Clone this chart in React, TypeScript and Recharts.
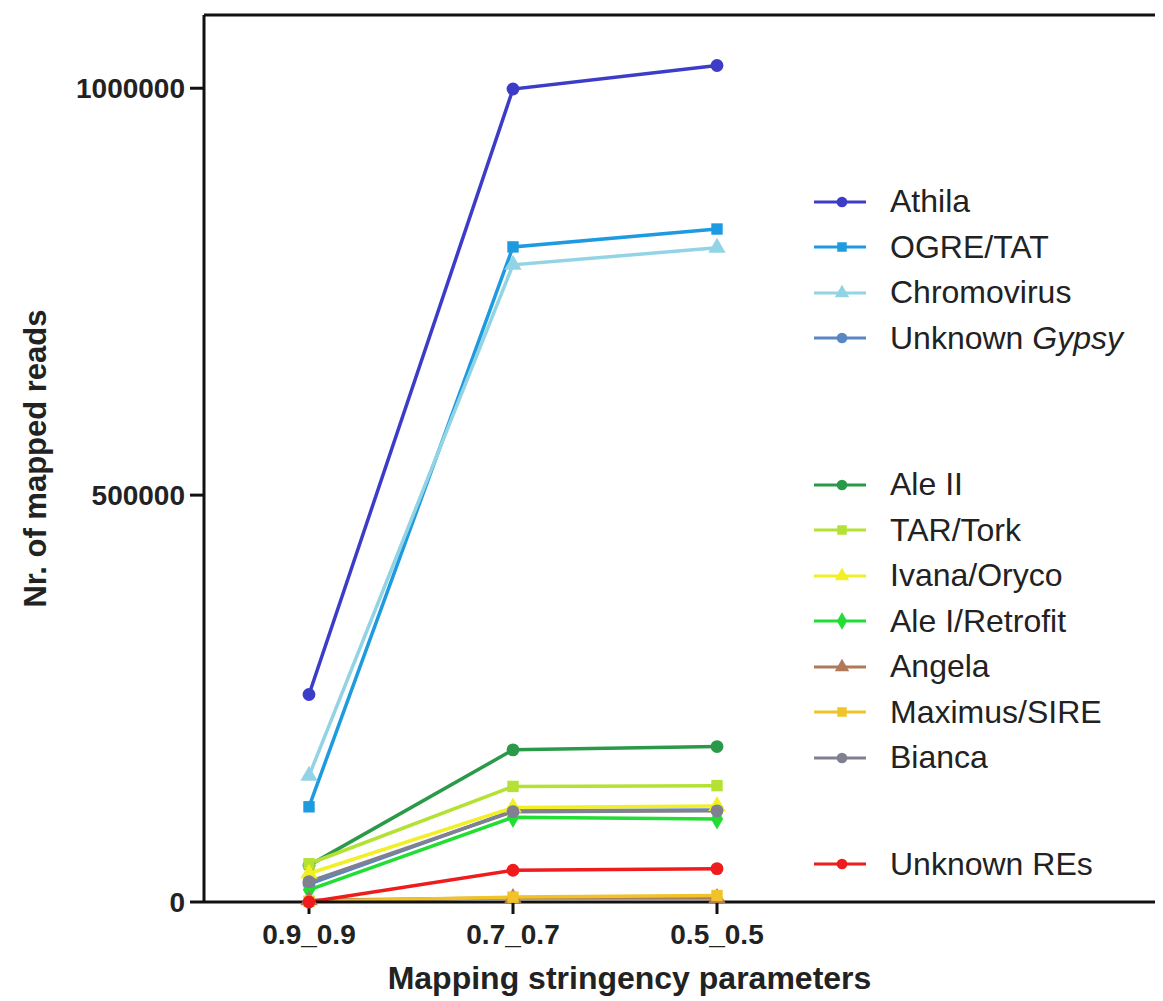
import React from "react";
import { LineChart, Line, XAxis, YAxis, Legend, Symbols, ReferenceLine } from "recharts";

// mapping stringency settings (x axis)
const stringency = ["0.9_0.9", "0.7_0.7", "0.5_0.5"];
const yTicks = [0, 500000, 1000000];
const yMax = 1090000;

// mapped reads per lineage
const athila = [255000, 999000, 1028000];
const ogreTat = [117000, 805000, 827000];
const chromovirus = [155000, 783000, 804000];
const unknownGypsy = [22000, 112000, 113000];
const aleII = [45000, 187000, 191000];
const tarTork = [47000, 142000, 143000];
const ivanaOryco = [35000, 116000, 118000];
const aleIRetrofit = [15000, 104000, 102000];
const angela = [2000, 5000, 5000];
const maximusSire = [1000, 6000, 8000];
const bianca = [25000, 111000, 112000];
const unknownREs = [0, 39000, 41000];

type S = { key: string; name: string; values: number[]; color: string; shape: any; gapBefore?: number };

const series: S[] = [
    { key: "athila", name: "Athila", values: athila, color: "#3c3cc8", shape: "circle" },
    { key: "ogre", name: "OGRE/TAT", values: ogreTat, color: "#1e9be0", shape: "square" },
    { key: "chromo", name: "Chromovirus", values: chromovirus, color: "#92d4e6", shape: "triangle" },
    { key: "gypsy", name: "Unknown Gypsy", values: unknownGypsy, color: "#5b86c4", shape: "circle" },
    { key: "aleII", name: "Ale II", values: aleII, color: "#2a9a4a", shape: "circle", gapBefore: 101 },
    { key: "tar", name: "TAR/Tork", values: tarTork, color: "#b4e234", shape: "square" },
    { key: "ivana", name: "Ivana/Oryco", values: ivanaOryco, color: "#f2f024", shape: "triangle" },
    { key: "aleI", name: "Ale I/Retrofit", values: aleIRetrofit, color: "#22dd33", shape: "diamond" },
    { key: "angela", name: "Angela", values: angela, color: "#b07a5a", shape: "triangle" },
    { key: "maximus", name: "Maximus/SIRE", values: maximusSire, color: "#f0c428", shape: "square" },
    { key: "bianca", name: "Bianca", values: bianca, color: "#808090", shape: "circle" },
    { key: "res", name: "Unknown REs", values: unknownREs, color: "#ee1c1c", shape: "circle", gapBefore: 61 },
];

const data = stringency.map((s, i) => {
    const row: any = { s };
    series.forEach((se) => { row[se.key] = se.values[i]; });
    return row;
});

const FONT = "'Liberation Sans', Arial, sans-serif";

const renderLegend = () => (
    <div style={{ fontFamily: FONT, fontSize: 32, color: "#222" }}>
        {series.map((se) => (
            <div key={se.key} style={{ display: "flex", alignItems: "center", height: 45.5, marginTop: se.gapBefore || 0 }}>
                <svg width={56} height={20} style={{ marginRight: 22 }}>
                    <line x1={2} y1={10} x2={54} y2={10} stroke={se.color} strokeWidth={3} />
                    <Symbols cx={30} cy={10} type={se.shape} size={90} fill={se.color} />
                </svg>
                <span>
                    {se.name === "Unknown Gypsy" ? <>Unknown <i>Gypsy</i></> : se.name}
                </span>
            </div>
        ))}
    </div>
);

export default function App() {
    return (
        <LineChart width={1155} height={993} data={data} margin={{ top: 7, right: 0, bottom: 0, left: 0 }}>
            <XAxis
                dataKey="s"
                padding={{ left: 105, right: 446 }}
                axisLine={{ stroke: "#111", strokeWidth: 3 }}
                tickLine={{ stroke: "#111", strokeWidth: 3 }}
                tickSize={12}
                tickMargin={10}
                height={99}
                tick={{ fill: "#222", fontSize: 28, fontWeight: "bold", fontFamily: FONT }}
                label={{ value: "Mapping stringency parameters", position: "insideBottom", offset: 12, dx: -54, fill: "#222", fontSize: 32, fontWeight: "bold", fontFamily: FONT }}
            />
            <YAxis
                domain={[0, yMax]}
                ticks={yTicks}
                width={196}
                axisLine={{ stroke: "#111", strokeWidth: 3 }}
                tickLine={{ stroke: "#111", strokeWidth: 3 }}
                tickSize={14}
                tickMargin={5}
                tick={{ fill: "#222", fontSize: 28, fontWeight: "bold", fontFamily: FONT }}
                label={{ value: "Nr. of mapped reads", angle: -90, position: "insideLeft", offset: 27, style: { textAnchor: "middle" }, fill: "#222", fontSize: 31, fontWeight: "bold", fontFamily: FONT }}
            />
            {/* top frame line */}
            <ReferenceLine y={yMax} stroke="#111" strokeWidth={3} ifOverflow="visible" />
            <Legend
                layout="vertical"
                align="center"
                verticalAlign="middle"
                content={renderLegend}
                wrapperStyle={{ left: 804, top: 171, width: 350 }}
            />
            {series.map((se) => (
                <Line
                    key={se.key}
                    dataKey={se.key}
                    name={se.name}
                    stroke={se.color}
                    strokeWidth={3.5}
                    isAnimationActive={false}
                    dot={(p: any) => (
                        <Symbols key={`${se.key}-${p.index}`} cx={p.cx} cy={p.cy} type={se.shape} size={130} fill={se.color} />
                    )}
                />
            ))}
        </LineChart>
    );
}
